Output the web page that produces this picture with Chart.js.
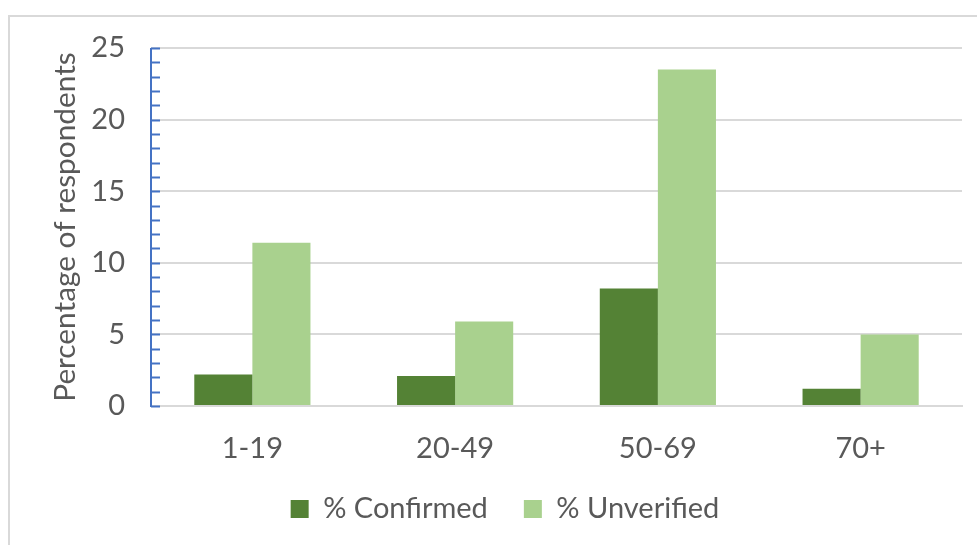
<!DOCTYPE html>
<html>
<head>
<meta charset="utf-8">
<script src="https://cdn.jsdelivr.net/npm/chart.js@4/dist/chart.umd.min.js"></script>
<style>
  html, body { margin: 0; padding: 0; background: #ffffff; }
  #wrap { position: relative; width: 977px; height: 545px; overflow: hidden; }
  #frame { position: absolute; left: 8px; top: 15px; width: 1000px; height: 600px; border: 2px solid #d9d9d9; box-sizing: border-box; }
  canvas { position: absolute; left: 0; top: 0; }
</style>
</head>
<body>
<div id="wrap">
  <div id="frame"></div>
  <canvas id="c" width="977" height="545"></canvas>
</div>
<script>
const categories = ["1-19", "20-49", "50-69", "70+"];
const confirmed = [2.2, 2.1, 8.2, 1.2];
const unverified = [11.4, 5.9, 23.5, 5.0];
const seriesNames = ["% Confirmed", "% Unverified"];
const yAxisTitle = "Percentage of respondents";

const FONT = "Lato, 'Open Sans', sans-serif";
const TEXT = "#595959";
const FS = 29;

const innerTicks = {
  id: 'innerTicks',
  afterDatasetsDraw(chart) {
    const y = chart.scales.y;
    const ctx = chart.ctx;
    const x0 = chart.chartArea.left;
    ctx.save();
    ctx.strokeStyle = '#4472C4';
    ctx.lineWidth = 2;
    for (let v = 0; v <= 25; v++) {
      const py = Math.round(y.getPixelForValue(v)) + 0.5;
      ctx.beginPath();
      ctx.moveTo(x0, py);
      ctx.lineTo(x0 + 9, py);
      ctx.stroke();
    }
    ctx.beginPath();
    ctx.moveTo(x0, y.getPixelForValue(25));
    ctx.lineTo(x0, y.getPixelForValue(0) + 1);
    ctx.stroke();
    ctx.restore();
  }
};

new Chart(document.getElementById('c'), {
  type: 'bar',
  data: {
    labels: categories,
    datasets: [
      { label: seriesNames[0], data: confirmed, backgroundColor: '#548235', borderWidth: 0 },
      { label: seriesNames[1], data: unverified, backgroundColor: '#A9D18E', borderWidth: 0 }
    ]
  },
  options: {
    responsive: false,
    animation: false,
    devicePixelRatio: 1,
    layout: { padding: { left: 48, right: 15, top: 48, bottom: 11.5 } },
    datasets: { bar: { categoryPercentage: 0.573, barPercentage: 1.0 } },
    plugins: {
      legend: {
        position: 'bottom',
        labels: {
          font: { family: FONT, size: FS },
          color: TEXT,
          boxWidth: 18,
          boxHeight: 18,
          padding: 36
        }
      },
      tooltip: { enabled: false }
    },
    scales: {
      x: {
        afterFit: s => { s.height = 52.5; },
        grid: { display: false, drawTicks: false },
        border: { display: true, color: '#d9d9d9', width: 2 },
        ticks: { font: { family: FONT, size: FS }, color: TEXT, padding: 25 }
      },
      y: {
        min: 0, max: 25,
        afterFit: s => { s.width = 103; },
        ticks: {
          stepSize: 1,
          autoSkip: false,
          font: { family: FONT, size: FS },
          color: TEXT,
          padding: 26,
          callback: v => (v % 5 === 0 ? String(v) : '')
        },
        grid: {
          drawTicks: false,
          color: ctx => (ctx.tick && ctx.tick.value % 5 === 0 ? '#d9d9d9' : 'rgba(0,0,0,0)'),
          lineWidth: 2
        },
        border: { display: false },
        title: { display: true, text: yAxisTitle, font: { family: FONT, size: 29.8 }, color: TEXT, padding: 0 }
      }
    }
  },
  plugins: [innerTicks]
});
</script>
</body>
</html>
